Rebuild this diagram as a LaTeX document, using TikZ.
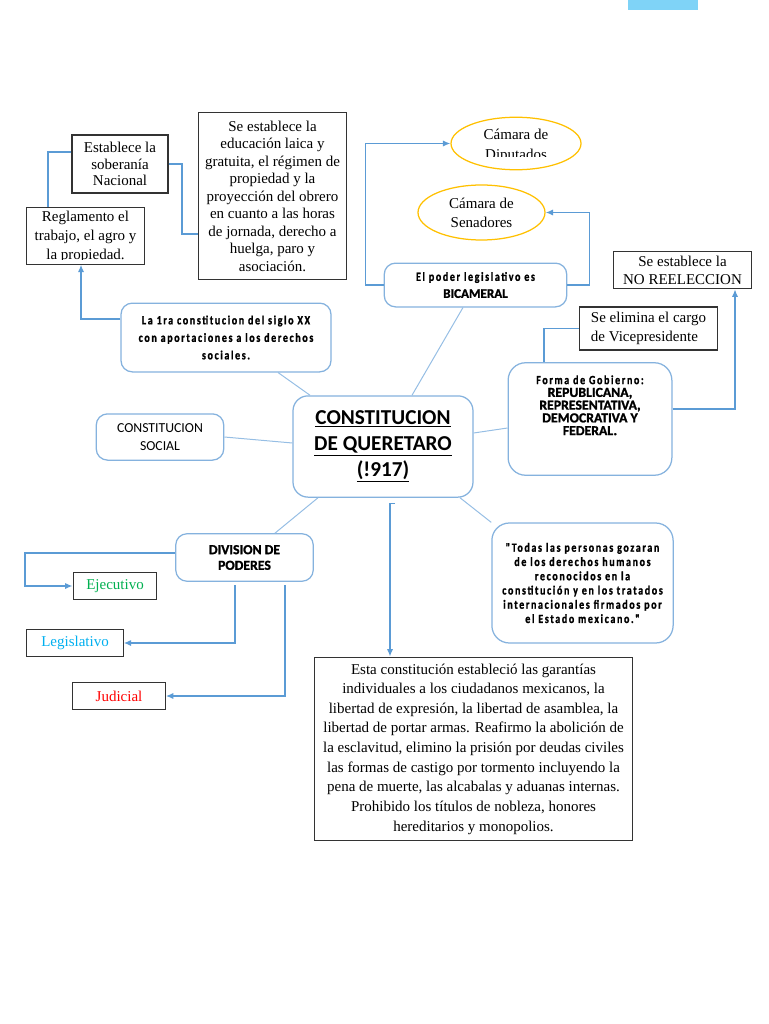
\documentclass[tikz,border=0pt]{standalone}
\usepackage{fontspec}
\setmainfont{Liberation Serif}
\newfontfamily\calibri{Carlito}
\newfontfamily\narrowbold[FakeStretch=0.8,LetterSpace=13,FakeBold=1.2]{Carlito}
\newfontfamily\heavyfont[FakeBold=1.5]{Carlito}
\usetikzlibrary{arrows.meta, shapes.geometric}
\definecolor{linkblue}{RGB}{91,155,213}
\definecolor{softedge}{RGB}{133,178,222}
\definecolor{spokeblue}{RGB}{150,190,228}
\definecolor{gold}{RGB}{255,192,0}
\definecolor{ejegreen}{RGB}{0,176,80}
\definecolor{legblue}{RGB}{0,176,240}
\definecolor{topbar}{RGB}{127,211,247}
\tikzset{
  plainbox/.style={draw=black!80, line width=0.9pt, fill=white, align=center, inner sep=2pt, font=\fontsize{12}{14}\selectfont},
  softbox/.style={draw=softedge, line width=1pt, rounded corners=9pt, fill=white, align=center, inner sep=2pt},
  camara/.style={ellipse, draw=gold, line width=1pt, inner sep=0pt},
  link/.style={draw=linkblue, line width=1.1pt, -{Latex[length=6pt,width=5pt]}},
  wire/.style={draw=linkblue, line width=1.1pt},
  spoke/.style={draw=spokeblue, line width=0.8pt},
}
\begin{document}
\begin{tikzpicture}[x=0.8pt, y=-0.8pt]
    \useasboundingbox (0,0) rectangle (768,1024);
    \fill[topbar] (628,0) rectangle (698,10);

    % left column
    \node[plainbox, minimum width=76.8pt, minimum height=46.4pt, font=\fontsize{12}{13.4}\selectfont] (soberania) at (120,164) {Establece la\\soberanía\\Nacional};
    \node[plainbox, minimum width=95pt, minimum height=45pt] (reglamento) at (85.5,236) {};
    \begin{scope}
        \clip (27,209) rectangle (144,259);
        \node[align=center, anchor=north, inner sep=0pt, font=\fontsize{12}{15}\selectfont] (reglamentotxt) at (85.5,211) {Reglamento el\\trabajo, el agro y\\la propiedad.};
    \end{scope}
    \node[plainbox, minimum width=119pt, minimum height=133pt] (educacion) at (272.5,196) {Se establece la\\educación laica y\\gratuita, el régimen de\\propiedad y la\\proyección del obrero\\en cuanto a las horas\\de jornada, derecho a\\huelga, paro y\\asociación.};
    \node[softbox, minimum width=168pt, minimum height=55pt, font=\narrowbold\bfseries\fontsize{10}{14}\selectfont] (primera) at (226,337.5) {La 1ra constitucion del siglo XX\\con aportaciones a los derechos\\sociales.};

    % legislativo
    \node[camara, minimum width=104pt, minimum height=42pt] (diputados) at (516,143.5) {};
    \begin{scope}
        \clip (450,120) rectangle (582,157);
        \node[align=center, anchor=north, inner sep=0pt, font=\fontsize{12}{16}\selectfont] (diputadostxt) at (516,129) {Cámara de\\Diputados};
    \end{scope}
    \node[camara, minimum width=101.6pt, minimum height=44pt, align=center, font=\fontsize{12}{15}\selectfont] (senadores) at (481.5,212.5) {Cámara de\\Senadores};
    \node[softbox, minimum width=146pt, minimum height=35pt, font=\fontsize{10}{13.6}\selectfont] (bicameral) at (475.5,285) {{\narrowbold\bfseries\fontsize{10}{13.6}\selectfont El poder legislativo es}\\{\heavyfont\bfseries\fontsize{10.5}{13.6}\selectfont BICAMERAL}};

    % gobierno
    \node[plainbox, minimum width=110pt, minimum height=30pt, font=\fontsize{12}{14.4}\selectfont] (noreeleccion) at (682.5,270) {Se establece la\\NO REELECCION};
    \node[plainbox, align=left, minimum width=111pt, minimum height=34.4pt, font=\fontsize{12}{15}\selectfont] (vice) at (648.5,328.5) {Se elimina el cargo\\de Vicepresidente};
    \node[softbox, rounded corners=14pt, minimum width=131pt, minimum height=90pt, text depth=22pt, font=\heavyfont\bfseries\fontsize{11}{10.2}\selectfont] (gobierno) at (590,419) {{\narrowbold\bfseries\fontsize{10}{12}\selectfont Forma de Gobierno:}\\REPUBLICANA,\\REPRESENTATIVA,\\DEMOCRATIVA Y\\FEDERAL.};

    % centro
    \node[softbox, rounded corners=12pt, minimum width=144pt, minimum height=81pt, font=\calibri\bfseries\fontsize{17}{20.8}\selectfont] (titulo) at (383,446.5) {\underline{CONSTITUCION}\\\underline{DE QUERETARO}\\\underline{(!917)}};
    \node[softbox, minimum width=102pt, minimum height=37pt, font=\calibri\fontsize{11}{14}\selectfont] (social) at (160,437) {CONSTITUCION\\SOCIAL};

    % poderes
    \node[softbox, minimum width=110pt, minimum height=38pt, font=\heavyfont\bfseries\fontsize{11}{12.5}\selectfont] (division) at (244.5,557.5) {DIVISION DE\\PODERES};
    \node[plainbox, minimum width=67pt, minimum height=21pt, text=ejegreen] (ejecutivo) at (115,586) {Ejecutivo};
    \node[plainbox, minimum width=77pt, minimum height=21pt, text=legblue] (legislativo) at (75,643) {Legislativo};
    \node[plainbox, minimum width=74pt, minimum height=21pt, text=red] (judicial) at (119,696) {Judicial};

    \node[softbox, rounded corners=14pt, minimum width=145pt, minimum height=96pt, font=\narrowbold\bfseries\fontsize{10}{11.4}\selectfont] (todas) at (582.5,583) {"Todas las personas gozaran\\de los derechos humanos\\reconocidos en la\\constitución y en los tratados\\internacionales firmados por\\el Estado mexicano."};
    \node[plainbox, minimum width=255pt, minimum height=147pt, font=\fontsize{12}{15.7}\selectfont] (garantias) at (473.5,749) {Esta constitución estableció las garantías\\individuales a los ciudadanos mexicanos, la\\libertad de expresión, la libertad de asamblea, la\\libertad de portar armas. Reafirmo la abolición de\\la esclavitud, elimino la prisión por deudas civiles\\las formas de castigo por tormento incluyendo la\\pena de muerte, las alcabalas y aduanas internas.\\Prohibido los títulos de nobleza, honores\\hereditarios y monopolios.};

    \coordinate (legtap) at (235,585);
    \coordinate (judtap) at (285,585);

    % conectores
    \draw[wire] (soberania.west |- 0,152) -| (48,0 |- reglamento.north);
    \draw[wire] (soberania.east) -| (182,234) -- (educacion.west |- 0,234);
    \draw[link] (primera.west |- 0,319) -| (81,0 |- reglamento.south);
    \draw[link] (bicameral.west) -- ++(-18,0) |- (diputados.west);
    \draw[link] (bicameral.east) -- ++(22,0) |- (senadores.east);
    \draw[wire] (vice.west) -| (544,0 |- gobierno.north);
    \draw[link] (gobierno.east |- 0,409) -| (735,0 |- noreeleccion.south);
    \draw[link] (division.west |- 0,553) -| (25,586) -- (ejecutivo.west);
    \draw[link] (legtap) |- (legislativo.east);
    \draw[link] (judtap) |- (judicial.east);
    \draw[link] ([shift={(12,6)}]titulo.south) -| (390,0 |- garantias.north);

    \draw[spoke] (278,0 |- primera.south) -- (310,0 |- titulo.north);
    \draw[spoke] (463,0 |- bicameral.south) -- (412,0 |- titulo.north);
    \draw[spoke] (gobierno.west |- 0,428) -- (titulo.east |- 0,433);
    \draw[spoke] (social.east) -- (titulo.west |- 0,443);
    \draw[spoke] (275,0 |- division.north) -- (318,0 |- titulo.south);
    \draw[spoke] (todas.north west) -- (460,0 |- titulo.south);
\end{tikzpicture}
\end{document}
